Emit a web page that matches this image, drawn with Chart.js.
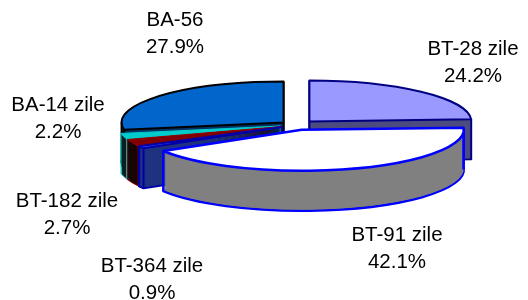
<!DOCTYPE html>
<html>
<head>
<meta charset="utf-8">
<script src="https://cdn.jsdelivr.net/npm/chart.js@4.4.1/dist/chart.umd.min.js"></script>
<style>
    html, body { margin: 0; padding: 0; background: #fff; }
    #wrap { width: 528px; height: 300px; }
</style>
</head>
<body>
<div id="wrap"><canvas id="pie" width="528" height="300"></canvas></div>
<script>
// Structura pe instrumente (procente)
const categories = ['BT-28 zile', 'BT-91 zile', 'BT-364 zile', 'BT-182 zile', 'BA-14 zile', 'BA-56'];
const shares = [24.2, 42.1, 0.9, 2.7, 2.2, 27.9];

// colours: top face, side wall, outline
const topColors = ['#9999FF', '#FFFFFF', '#3366FF', '#800000', '#00CCCC', '#0066CC'];
const sideColors = ['#4C4C80', '#808080', '#1F3380', '#1A0505', '#052222', '#003366'];
const borderColors = ['#000080', '#0000FF', '#0000AA', '#990000', '#00CCCC', '#000000'];
const borderWidths = [2, 2.5, 2, 1, 1, 2];
// how far each slice is pulled out, as a share of the radius
const explodeBy = [0.12, 0.12, 0.10, 0.10, 0.10, 0.10];

// label anchors: centre x, baseline of first line
const labelAnchors = [[473, 55], [397, 241], [152, 272], [67, 207], [58, 111], [175, 26]];

// projection of the pie onto the page
const view = { cx: 296, cy: 125, rx: 162, ry: 41, depth: 40 };

function slicePath(ctx, x, y, a0, a1) {
    ctx.beginPath();
    ctx.moveTo(x, y);
    ctx.ellipse(x, y, view.rx, view.ry, 0, a0, a1, false);
    ctx.closePath();
}

const pie3d = {
    id: 'pie3d',
    beforeDatasetsDraw(chart) {
        const ctx = chart.ctx;
        const arcs = chart.getDatasetMeta(0).data;
        const R = arcs[0].outerRadius;
        const sx = view.rx / R, sy = view.ry / R;
        const mid = a => (a.startAngle + a.endAngle) / 2;

        // back slices first
        const order = arcs.map((a, i) => i).sort((i, j) => Math.sin(mid(arcs[i])) - Math.sin(mid(arcs[j])));

        order.forEach(i => {
            const a = arcs[i];
            const m = mid(a);
            const ox = view.cx + Math.cos(m) * explodeBy[i] * view.rx;
            const oy = view.cy + Math.sin(m) * explodeBy[i] * view.ry;
            const a0 = a.startAngle, a1 = a.endAngle;

            ctx.save();
            ctx.lineJoin = 'round';
            ctx.fillStyle = sideColors[i];
            ctx.strokeStyle = borderColors[i];
            ctx.lineWidth = borderWidths[i];

            // side wall, built from the bottom up
            slicePath(ctx, ox, oy + view.depth, a0, a1);
            ctx.fill();
            ctx.stroke();
            for (let d = view.depth - 1; d >= 1; d--) {
                slicePath(ctx, ox, oy + d, a0, a1);
                ctx.fill();
            }

            // vertical edges
            const pts = [[ox, oy]];
            const rim = t => [ox + Math.cos(t) * view.rx, oy + Math.sin(t) * view.ry];
            pts.push(rim(a0), rim(a1));
            for (let k = -1; k <= 3; k++) {
                const t = k * Math.PI;
                if (t > a0 && t < a1) pts.push(rim(t));
            }
            ctx.beginPath();
            pts.forEach(p => {
                ctx.moveTo(p[0], p[1]);
                ctx.lineTo(p[0], p[1] + view.depth);
            });
            ctx.stroke();
            ctx.restore();

            // top face drawn by the arc element itself
            ctx.save();
            ctx.translate(ox, oy);
            ctx.scale(sx, sy);
            ctx.translate(-a.x, -a.y);
            a.draw(ctx);
            ctx.restore();

            // outline of the top face
            ctx.save();
            ctx.lineJoin = 'round';
            ctx.strokeStyle = borderColors[i];
            ctx.lineWidth = borderWidths[i];
            slicePath(ctx, ox, oy, a0, a1);
            ctx.stroke();
            ctx.restore();
        });
        return false;
    },
    afterDraw(chart) {
        const ctx = chart.ctx;
        ctx.save();
        ctx.font = '20.5px "Liberation Sans", Arial, sans-serif';
        ctx.fillStyle = '#000';
        ctx.textAlign = 'center';
        ctx.textBaseline = 'alphabetic';
        categories.forEach((name, i) => {
            const [x, y] = labelAnchors[i];
            ctx.fillText(name, x, y);
            ctx.fillText(shares[i].toFixed(1) + '%', x, y + 26.7);
        });
        ctx.restore();
    }
};

new Chart(document.getElementById('pie').getContext('2d'), {
    type: 'pie',
    data: {
        labels: categories,
        datasets: [{
            data: shares,
            backgroundColor: topColors,
            borderWidth: 0
        }]
    },
    options: {
        responsive: false,
        animation: false,
        events: [],
        plugins: {
            legend: { display: false },
            tooltip: { enabled: false }
        }
    },
    plugins: [pie3d]
});
</script>
</body>
</html>
